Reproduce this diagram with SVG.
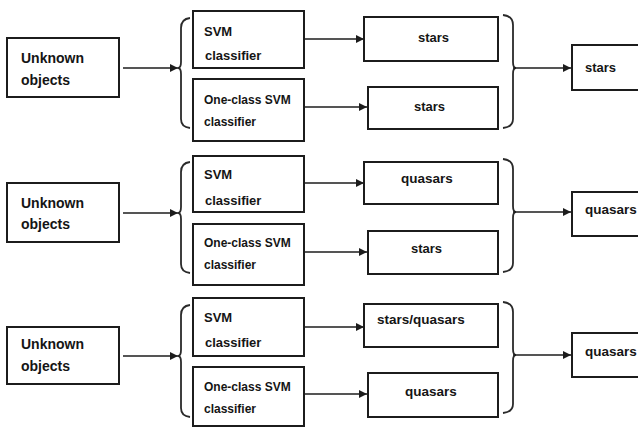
<svg xmlns="http://www.w3.org/2000/svg" width="638" height="429" viewBox="0 0 638 429">
<style>
.box{fill:#fff;stroke:#1c1c1c;stroke-width:2}
.t{font-family:"Liberation Sans",Arial,sans-serif;font-weight:bold;fill:#151515}
.t14{font-size:14px}
.t13{font-size:13px}
.t12{font-size:12px}
.t135{font-size:13.5px}
.ln{fill:none;stroke:#1c1c1c;stroke-width:1.6}
.br{fill:none;stroke:#2a2a2a;stroke-width:1.8}
</style>
<defs>
<marker id="ah" viewBox="0 0 10 10" refX="10" refY="5" markerWidth="9" markerHeight="8" markerUnits="userSpaceOnUse" orient="auto">
<path d="M0,0 L10,5 L0,10 Z" fill="#1c1c1c"/>
</marker>
</defs>
<rect width="638" height="429" fill="#fff"/>

<!-- Row 1 -->
<g id="unknown1"><rect class="box" x="7" y="38" width="112" height="59"/><text class="t t14" x="21" y="63">Unknown</text><text class="t t14" x="21" y="85">objects</text></g>
<g id="svm1"><rect class="box" x="193" y="11" width="111" height="57"/><text class="t t13" x="204" y="36">SVM</text><text class="t t13" x="205" y="60">classifier</text></g>
<g id="ocsvm1"><rect class="box" x="193" y="79" width="111" height="62"/><text class="t t12" x="204" y="104">One-class SVM</text><text class="t t12" x="204" y="126">classifier</text></g>
<g id="res1a"><rect class="box" x="364" y="17" width="134" height="44"/><text class="t t13" x="418" y="42">stars</text></g>
<g id="res1b"><rect class="box" x="368" y="87" width="130" height="42"/><text class="t t13" x="414" y="111">stars</text></g>
<g id="final1"><rect class="box" x="572" y="45" width="70" height="45"/><text class="t t13" x="585" y="72">stars</text></g>

<!-- Row 2 -->
<g id="unknown2"><rect class="box" x="7" y="183" width="112" height="59"/><text class="t t14" x="21" y="208">Unknown</text><text class="t t14" x="21" y="229">objects</text></g>
<g id="svm2"><rect class="box" x="193" y="156" width="111" height="56"/><text class="t t13" x="204" y="179">SVM</text><text class="t t13" x="205" y="205">classifier</text></g>
<g id="ocsvm2"><rect class="box" x="193" y="224" width="111" height="61"/><text class="t t12" x="204" y="247">One-class SVM</text><text class="t t12" x="204" y="269">classifier</text></g>
<g id="res2a"><rect class="box" x="364" y="162" width="134" height="42"/><text class="t t135" x="401" y="183">quasars</text></g>
<g id="res2b"><rect class="box" x="368" y="231" width="130" height="43"/><text class="t t13" x="411" y="253">stars</text></g>
<g id="final2"><rect class="box" x="572" y="192" width="70" height="44"/><text class="t t135" x="585" y="214">quasars</text></g>

<!-- Row 3 -->
<g id="unknown3"><rect class="box" x="7" y="327" width="112" height="57"/><text class="t t14" x="21" y="349">Unknown</text><text class="t t14" x="21" y="371">objects</text></g>
<g id="svm3"><rect class="box" x="193" y="298" width="111" height="58"/><text class="t t13" x="204" y="322">SVM</text><text class="t t13" x="205" y="347">classifier</text></g>
<g id="ocsvm3"><rect class="box" x="193" y="367" width="111" height="59"/><text class="t t12" x="204" y="391">One-class SVM</text><text class="t t12" x="204" y="413">classifier</text></g>
<g id="res3a"><rect class="box" x="364" y="304" width="134" height="43"/><text class="t t135" x="377" y="324">stars/quasars</text></g>
<g id="res3b"><rect class="box" x="368" y="373" width="130" height="44"/><text class="t t135" x="405" y="396">quasars</text></g>
<g id="final3"><rect class="box" x="572" y="333" width="70" height="44"/><text class="t t135" x="585" y="356">quasars</text></g>

<g id="connectors">
<!-- braces -->
<path class="br" d="M190,18 Q181,19 181,28 L181,62 Q181,68 178,68 Q181,68 181,74 L181,119 Q181,127 190,128"/>
<path class="br" d="M503,15 Q513,16 513,25 L513,62 Q513,68 516,68 Q513,68 513,74 L513,119 Q513,127 503,128"/>
<path class="br" d="M190,162 Q181,163 181,172 L181,207 Q181,213 178,213 Q181,213 181,219 L181,264 Q181,272 190,273"/>
<path class="br" d="M503,159 Q513,160 513,169 L513,206 Q513,212 516,212 Q513,212 513,218 L513,263 Q513,271 503,272"/>
<path class="br" d="M190,305 Q181,306 181,315 L181,350 Q181,356 178,356 Q181,356 181,362 L181,408 Q181,416 190,417"/>
<path class="br" d="M503,302 Q513,303 513,312 L513,349 Q513,355 516,355 Q513,355 513,361 L513,404 Q513,412 503,413"/>
<!-- arrows row 1 -->
<line class="ln" x1="123" y1="68" x2="178" y2="68" marker-end="url(#ah)"/>
<line class="ln" x1="304" y1="39" x2="364" y2="39" marker-end="url(#ah)"/>
<line class="ln" x1="304" y1="107" x2="367" y2="107" marker-end="url(#ah)"/>
<line class="ln" x1="513" y1="68" x2="571" y2="68" marker-end="url(#ah)"/>
<!-- arrows row 2 -->
<line class="ln" x1="123" y1="213" x2="178" y2="213" marker-end="url(#ah)"/>
<line class="ln" x1="304" y1="183" x2="364" y2="183" marker-end="url(#ah)"/>
<line class="ln" x1="304" y1="252" x2="367" y2="252" marker-end="url(#ah)"/>
<line class="ln" x1="513" y1="212" x2="571" y2="212" marker-end="url(#ah)"/>
<!-- arrows row 3 -->
<line class="ln" x1="123" y1="356" x2="178" y2="356" marker-end="url(#ah)"/>
<line class="ln" x1="304" y1="327" x2="364" y2="327" marker-end="url(#ah)"/>
<line class="ln" x1="304" y1="394" x2="367" y2="394" marker-end="url(#ah)"/>
<line class="ln" x1="513" y1="355" x2="571" y2="355" marker-end="url(#ah)"/>
</g>
</svg>
